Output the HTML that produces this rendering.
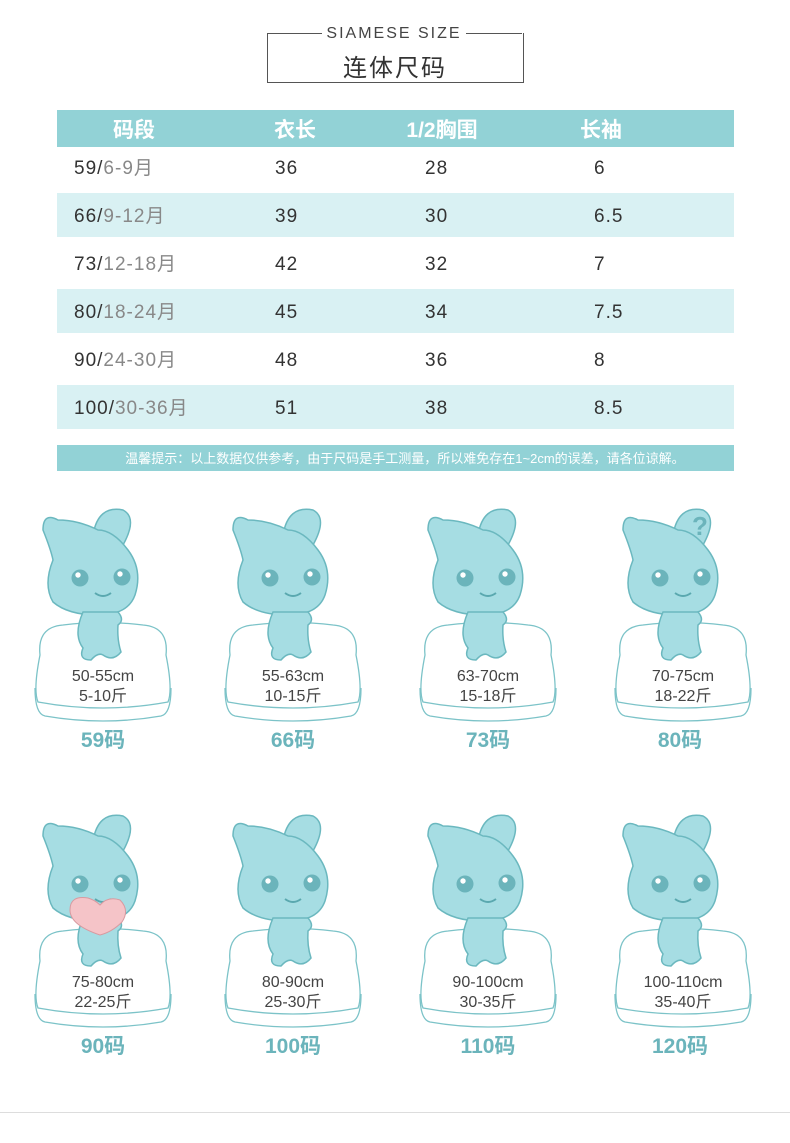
<!DOCTYPE html>
<html><head><meta charset="utf-8"><style>
body{margin:0;width:790px;height:1143px;background:#fff;position:relative;overflow:hidden;font-family:"Liberation Sans","Noto Sans CJK SC",sans-serif}
.a{position:absolute}
</style></head><body>
<div class="a" style="left:267px;top:33px;width:255px;height:49px;border:1px solid #555;border-top:none"></div>
<div class="a" style="left:267px;top:33px;width:255px;height:1px;background:#555"></div>
<div class="a" style="left:322px;top:24px;width:144px;height:20px;background:#fff;text-align:center;font-size:16px;letter-spacing:2px;color:#444;line-height:20px">SIAMESE SIZE</div>
<div class="a" style="left:267px;top:48px;width:256px;text-align:center;font-size:24px;color:#333;letter-spacing:2px">连体尺码</div>

<svg class="a" style="left:0;top:0" width="790" height="1143" font-family="Liberation Sans, Noto Sans CJK SC, sans-serif">
<rect x="57" y="110" width="677" height="37" fill="#92d2d6"/>
<g fill="#fff" font-size="21" font-weight="bold" text-anchor="middle">
<text x="134" y="137">码段</text><text x="295" y="137">衣长</text><text x="442" y="137">1/2胸围</text><text x="601" y="137">长袖</text></g>
<rect x="57" y="193" width="677" height="44" fill="#d9f1f3"/>
<rect x="57" y="289" width="677" height="44" fill="#d9f1f3"/>
<rect x="57" y="385" width="677" height="44" fill="#d9f1f3"/>
<g font-size="19" fill="#333" letter-spacing="1">
<text x="74" y="174">59/<tspan fill="#888">6-9月</tspan></text><text x="275" y="174">36</text><text x="425" y="174">28</text><text x="594" y="174">6</text>
<text x="74" y="222">66/<tspan fill="#888">9-12月</tspan></text><text x="275" y="222">39</text><text x="425" y="222">30</text><text x="594" y="222">6.5</text>
<text x="74" y="270">73/<tspan fill="#888">12-18月</tspan></text><text x="275" y="270">42</text><text x="425" y="270">32</text><text x="594" y="270">7</text>
<text x="74" y="318">80/<tspan fill="#888">18-24月</tspan></text><text x="275" y="318">45</text><text x="425" y="318">34</text><text x="594" y="318">7.5</text>
<text x="74" y="366">90/<tspan fill="#888">24-30月</tspan></text><text x="275" y="366">48</text><text x="425" y="366">36</text><text x="594" y="366">8</text>
<text x="74" y="414">100/<tspan fill="#888">30-36月</tspan></text><text x="275" y="414">51</text><text x="425" y="414">38</text><text x="594" y="414">8.5</text>
</g>
<rect x="57" y="445" width="677" height="26" fill="#92d2d6"/>
<text x="405" y="463" font-size="13" fill="#fff" text-anchor="middle">温馨提示：以上数据仅供参考，由于尺码是手工测量，所以难免存在1~2cm的误差，请各位谅解。</text>

<defs>
<g id="c">
<path d="M-63,25 Q-66,-3 -40,-5 Q0,-10 40,-5 Q66,-3 63,25 Q70,60 65,72 Q0,84 -65,72 Q-70,60 -63,25Z" fill="#fff" stroke="#7cc3c8" stroke-width="1.3"/>
<path d="M-68,58 Q-68,84 -58,86 Q0,96 58,86 Q68,84 68,58" fill="none" stroke="#7cc3c8" stroke-width="1.3"/>
</g>
<g id="r">
<path d="M-10,-95 Q-5,-125 20,-120 Q35,-112 20,-85 Q15,-75 5,-70 Z" fill="#a6dde3" stroke="#6bb8bf" stroke-width="1.5"/>
<path d="M-45,-110 Q-60,-118 -60,-100 Q-52,-80 -50,-70 Q-60,-45 -50,-28 Q-35,-15 -5,-15 Q25,-15 32,-35 Q40,-60 25,-80 Q10,-100 -5,-100 Q-25,-110 -45,-110Z" fill="#a6dde3" stroke="#6bb8bf" stroke-width="1.5"/>
<path d="M-20,-18 Q-30,5 -20,18 Q-25,30 -12,30 Q-5,22 0,25 Q10,32 18,22 Q14,10 15,-5 Q22,-10 15,-18Z" fill="#a6dde3" stroke="#6bb8bf" stroke-width="1.5"/>
<circle cx="-23" cy="-52" r="8.5" fill="#6bb4bb"/><circle cx="19" cy="-53" r="8.5" fill="#6bb4bb"/>
<circle cx="-25" cy="-55" r="2.7" fill="#fff"/><circle cx="17" cy="-56" r="2.7" fill="#fff"/>
<path d="M-8,-37 Q0,-31 8,-37" fill="none" stroke="#5aa8af" stroke-width="2"/>
</g>
</defs>
<g font-size="16" fill="#444" text-anchor="middle">
<g transform="translate(103,630)"><use href="#c"/><use href="#r"/></g>
<g transform="translate(293,630)"><use href="#c"/><use href="#r"/></g>
<g transform="translate(488,630)"><use href="#c"/><use href="#r"/></g>
<g transform="translate(683,630)"><use href="#c"/><use href="#r"/></g>
<g transform="translate(103,936)"><use href="#c"/><use href="#r"/></g>
<g transform="translate(293,936)"><use href="#c"/><use href="#r"/></g>
<g transform="translate(488,936)"><use href="#c"/><use href="#r"/></g>
<g transform="translate(683,936)"><use href="#c"/><use href="#r"/></g>
<path d="M100,935 Q70,925 70,910 Q70,895 88,898 Q95,900 100,905 Q108,896 120,900 Q130,910 122,922 Q112,932 100,935Z" fill="#f5c4c8" stroke="#d89aa0"/>
<text x="700" y="535" font-size="26" font-weight="bold" fill="#6bb4bb">?</text>
<text x="103" y="681">50-55cm</text><text x="103" y="701">5-10斤</text>
<text x="293" y="681">55-63cm</text><text x="293" y="701">10-15斤</text>
<text x="488" y="681">63-70cm</text><text x="488" y="701">15-18斤</text>
<text x="683" y="681">70-75cm</text><text x="683" y="701">18-22斤</text>
<text x="103" y="987">75-80cm</text><text x="103" y="1007">22-25斤</text>
<text x="293" y="987">80-90cm</text><text x="293" y="1007">25-30斤</text>
<text x="488" y="987">90-100cm</text><text x="488" y="1007">30-35斤</text>
<text x="683" y="987">100-110cm</text><text x="683" y="1007">35-40斤</text>
<g font-size="21" font-weight="bold" fill="#6bb4bb">
<text x="103" y="747">59码</text><text x="293" y="747">66码</text><text x="488" y="747">73码</text><text x="680" y="747">80码</text>
<text x="103" y="1053">90码</text><text x="293" y="1053">100码</text><text x="488" y="1053">110码</text><text x="680" y="1053">120码</text>
</g>
</g>
<rect x="0" y="1112" width="790" height="1" fill="#ddd"/>
</svg>
</body></html>
